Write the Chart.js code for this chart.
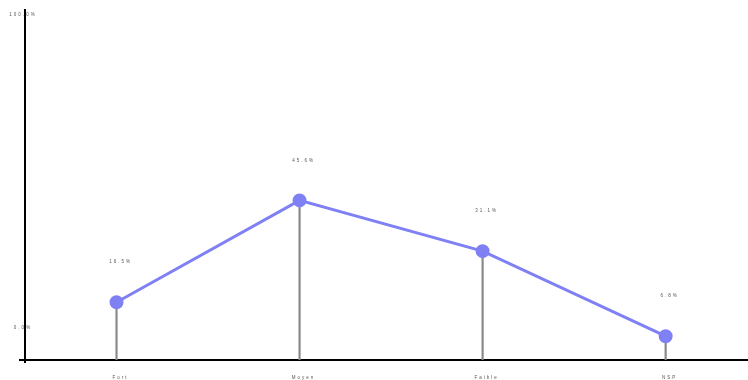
<!DOCTYPE html>
<html>
<head>
<meta charset="utf-8">
<script src="https://cdn.jsdelivr.net/npm/chart.js@4"></script>
<style>
  html, body { margin: 0; padding: 0; background: #fff; }
  #wrap { width: 748px; height: 380px; }
</style>
</head>
<body>
<div id="wrap"><canvas id="graphique"></canvas></div>
<script>
// donnees
const categories = ['Fort', 'Moyen', 'Faible', 'NSP'];
const valeurs = [16.5, 45.6, 31.1, 6.8];
const ticksY = [0, 100];

const couleurLigne = 'rgb(128, 128, 245)';
const couleurTexte = '#555';

// petit texte espace (labels, ticks)
function texte(ctx, str, x, y) {
  ctx.save();
  ctx.font = '4.5px "Liberation Sans", Arial, sans-serif';
  ctx.letterSpacing = '2px';
  ctx.fillStyle = couleurTexte;
  ctx.textAlign = 'center';
  ctx.textBaseline = 'middle';
  ctx.fillText(str, x, y);
  ctx.restore();
}

const etiquettes = {
  id: 'etiquettes',
  afterDatasetsDraw(chart) {
    const ctx = chart.ctx;
    const sx = chart.scales.x, sy = chart.scales.y;
    // valeurs au dessus des points
    chart.getDatasetMeta(1).data.forEach((pt, i) => {
      texte(ctx, valeurs[i].toFixed(1) + '%', pt.x + 4, pt.y - 40);
    });
    // categories sous l'axe
    categories.forEach((c, i) => {
      texte(ctx, c, sx.getPixelForValue(i) + 4, sy.bottom + 18);
    });
    // ticks de l'axe y
    texte(ctx, ticksY[1].toFixed(1) + '%', sx.left - 2, sy.getPixelForValue(ticksY[1]) + 5);
    texte(ctx, ticksY[0].toFixed(1) + '%', sx.left - 2, sy.getPixelForValue(ticksY[0]) - 32);
    // petits depassements des axes
    ctx.save();
    ctx.strokeStyle = '#000';
    ctx.lineWidth = 2;
    ctx.beginPath();
    ctx.moveTo(sx.left - 6, sy.bottom);
    ctx.lineTo(sx.left, sy.bottom);
    ctx.moveTo(sx.left, sy.bottom);
    ctx.lineTo(sx.left, sy.bottom + 3);
    ctx.stroke();
    ctx.restore();
  }
};

new Chart(document.getElementById('graphique'), {
  type: 'bar',
  data: {
    datasets: [{
      type: 'bar',
      data: valeurs.map((v, i) => ({ x: i, y: v })),
      backgroundColor: '#888',
      barThickness: 1.5,
      order: 2
    }, {
      type: 'line',
      data: valeurs.map((v, i) => ({ x: i, y: v })),
      borderColor: couleurLigne,
      backgroundColor: couleurLigne,
      borderWidth: 3,
      pointRadius: 5.5,
      pointHoverRadius: 5.5,
      tension: 0,
      order: 1
    }]
  },
  options: {
    responsive: true,
    maintainAspectRatio: false,
    animation: false,
    layout: { autoPadding: false, padding: { top: 10, right: 0, bottom: 0, left: 0 } },
    plugins: { legend: { display: false }, tooltip: { enabled: false } },
    scales: {
      x: {
        type: 'linear',
        min: -0.5,
        max: 3.45,
        offset: false,
        grid: { display: false },
        border: { display: true, color: '#000', width: 2 },
        ticks: { display: false },
        afterFit: s => { s.height = 20; }
      },
      y: {
        min: 0,
        max: 100,
        grid: { display: false },
        border: { display: true, color: '#000', width: 2 },
        ticks: { display: false },
        afterFit: s => { s.width = 25; }
      }
    }
  },
  plugins: [etiquettes]
});
</script>
</body>
</html>
